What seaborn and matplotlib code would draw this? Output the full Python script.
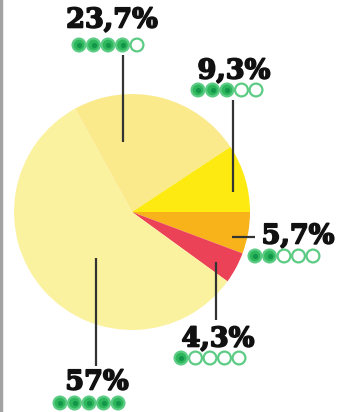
import matplotlib
matplotlib.use("Agg")
import matplotlib.pyplot as plt
import matplotlib.patheffects as pe
import seaborn as sns

sns.set_theme(style="white")
plt.rcParams['font.family'] = ['DejaVu Serif', 'Liberation Serif']

# Data
labels = ["5,7%", "4,3%", "57%", "23,7%", "9,3%"]
values = [5.7, 4.3, 57.0, 23.7, 9.3]
ratings = [2, 1, 5, 4, 3]
colors = ["#F8B31A", "#EC4257", "#FBF2A0", "#FAEA8C", "#FCEA10"]

W, H = 354, 412
fig = plt.figure(figsize=(W / 100, H / 100), dpi=100)
ax = fig.add_axes([0, 0, 1, 1])

cx, cy, R = 132, H - 212, 118
ax.pie(values, colors=colors, startangle=0, counterclock=False,
       center=(cx, cy), radius=R, wedgeprops=dict(linewidth=0))

# label layout (pixel coords from top)
text_pos = [(298, 236), (218, 339), (97, 382), (112, 20), (234, 71)]
dot_pos = [(255, 256), (181, 358), (60, 403), (79, 45), (198, 90)]
leaders = [((232, 237), (255, 237)), ((216, 262), (216, 320)),
           ((96, 258), (96, 366)), ((123, 55), (123, 142)),
           ((233, 100), (233, 192))]

stroke = [pe.withStroke(linewidth=1.2, foreground="#111111")]
for lab, r, (tx, ty), (dx, dy), (p0, p1) in zip(labels, ratings, text_pos, dot_pos, leaders):
    ax.plot([p0[0], p1[0]], [H - p0[1], H - p1[1]], color="#333333", lw=1.6,
            solid_capstyle="butt", zorder=3)
    ax.text(tx, H - ty, lab, ha="center", va="center", fontsize=19.5,
            fontweight="heavy", color="#111111", zorder=4, path_effects=stroke)
    xs = [dx + 14.5 * i for i in range(5)]
    ys = [H - dy] * 5
    fc = ["#2DB65C" if i < r else "white" for i in range(5)]
    ax.scatter(xs, ys, s=85, c=fc, edgecolors="#5CCB84", linewidths=1.6, zorder=5)
    ax.scatter(xs[:r], ys[:r], s=14, c="#14964A", linewidths=0, zorder=6)

ax.axvline(1, color="#A3A3A3", lw=2.5)
ax.set_xlim(0, W)
ax.set_ylim(0, H)
ax.set_aspect("auto")
ax.axis("off")
fig.savefig("out.png", dpi=100)
